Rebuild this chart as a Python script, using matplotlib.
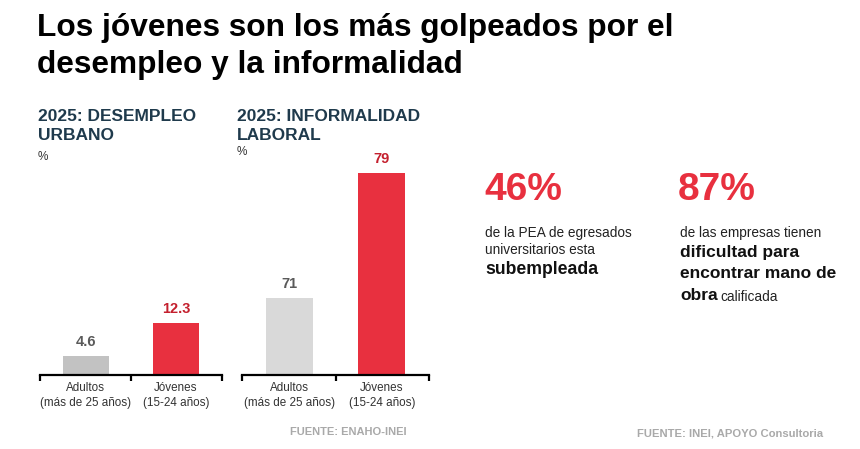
import matplotlib
matplotlib.use('Agg')

import matplotlib.pyplot as plt

plt.rcParams['font.family'] = ['Liberation Sans', 'DejaVu Sans']

W, H = 860, 449

# data
groups = ['Adultos\n(más de 25 años)', 'Jóvenes\n(15-24 años)']
desempleo = [4.6, 12.3]
informalidad = [71, 79]

RED = '#e8303f'
RED_TXT = '#c4202e'
GREY_TXT = '#5a5a5a'
NAVY = '#1f3a4c'


def px(x, y):
    return x / W, 1 - y / H


def ftext(x, y, s, **kw):
    fx, fy = px(x, y)
    kw.setdefault('va', 'center')
    return fig.text(fx, fy, s, **kw)


def bar_panel(rect, values, colors, ylim, width):
    ax = fig.add_axes(rect)
    bars = ax.bar([0, 1], values, width=width, color=colors, zorder=2)
    ax.set_xlim(-0.51, 1.51)
    ax.set_ylim(*ylim)
    for s in ['top', 'right', 'left']:
        ax.spines[s].set_visible(False)
    ax.spines['bottom'].set_linewidth(1.6)
    ax.set_yticks([])
    ax.set_xticks([0, 1])
    ax.set_xticklabels(groups, fontsize=8.4, color='#333333', linespacing=1.35)
    ax.tick_params(axis='x', which='major', length=0, pad=5)
    ax.set_xticks([-0.51, 0.5, 1.51], minor=True)
    ax.tick_params(axis='x', which='minor', length=4, width=1.6, direction='out')
    for b, v, c in zip(bars, values, [GREY_TXT, RED_TXT]):
        ax.annotate(f'{v:g}', (b.get_x() + b.get_width() / 2, b.get_height()),
                    xytext=(0, 5), textcoords='offset points', ha='center', va='bottom',
                    fontsize=10.5, fontweight='bold', color=c, annotation_clip=False)
    ax.patch.set_alpha(0)
    return ax


fig = plt.figure(figsize=(W / 100, H / 100), dpi=100)

# title
ftext(37, 28, 'Los jóvenes son los más golpeados por el', fontsize=22.8, fontweight='bold', color='black')
ftext(37, 65, 'desempleo y la informalidad', fontsize=22.8, fontweight='bold', color='black')

# panel headers
ftext(38, 116, '2025: DESEMPLEO', fontsize=12.5, fontweight='bold', color=NAVY)
ftext(38, 136, 'URBANO', fontsize=12.5, fontweight='bold', color=NAVY)
ftext(38, 157, '%', fontsize=8.5, color='#333333')
ftext(237, 116, '2025: INFORMALIDAD', fontsize=12.5, fontweight='bold', color=NAVY)
ftext(237, 135, 'LABORAL', fontsize=12.5, fontweight='bold', color=NAVY)
ftext(237, 152, '%', fontsize=8.5, color='#333333')

# left chart: unemployment (starts at 0)
l, b = px(40, 375)
bar_panel([l, b, 182 / W, 205 / H], desempleo, ['#c2c2c2', RED], (0, 48.5), 0.52)

# right chart: informality (axis does not start at 0)
l, b = px(242, 375)
bar_panel([l, b, 187 / W, 205 / H], informalidad, ['#d9d9d9', RED], (66.1, 79.2), 0.51)

ftext(348, 432, 'FUENTE: ENAHO-INEI', fontsize=8, fontweight='bold', color='#a9a9a9', ha='center')

# right side key figures
ftext(484, 190, '46%', fontsize=28, fontweight='bold', color=RED)
ftext(485, 233, 'de la PEA de egresados', fontsize=9.8, color='#222222')
ftext(485, 250, 'universitarios esta', fontsize=9.8, color='#222222')
ftext(485, 269, 'subempleada', fontsize=12.7, fontweight='bold', color='#111111')

ftext(678, 190, '87%', fontsize=28, fontweight='bold', color=RED)
ftext(680, 233, 'de las empresas tienen', fontsize=9.8, color='#222222')
ftext(680, 253, 'dificultad para', fontsize=12.5, fontweight='bold', color='#111111')
ftext(680, 274, 'encontrar mano de', fontsize=12.5, fontweight='bold', color='#111111')
t = ftext(680, 296, 'obra', fontsize=12.5, fontweight='bold', color='#111111')
fig.canvas.draw()
bb = t.get_window_extent()
fig.text(bb.x1 / W + 3 / W, px(0, 297)[1], 'calificada', fontsize=9.8, color='#222222', va='center')

ftext(730, 433, 'FUENTE: INEI, APOYO Consultoria', fontsize=8.1, fontweight='bold',
      color='#a9a9a9', ha='center')

fig.savefig('out.png', dpi=100)
